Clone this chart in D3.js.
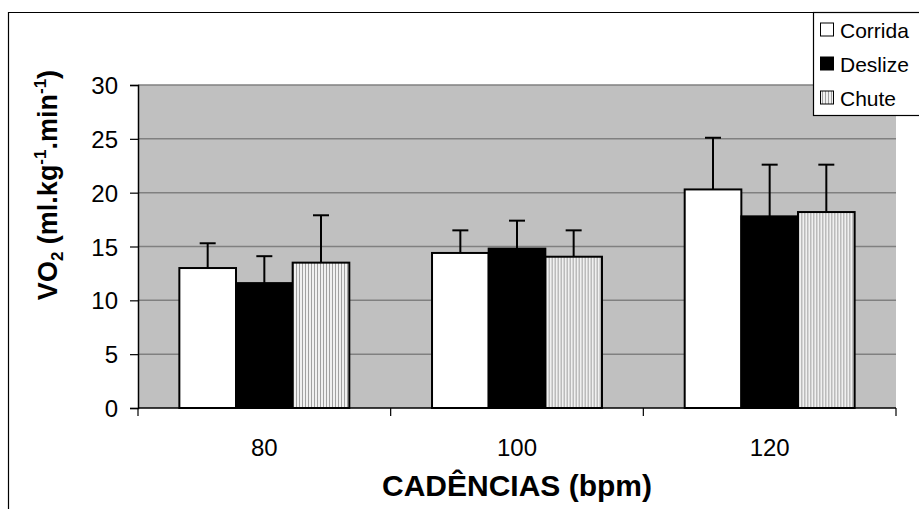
<!DOCTYPE html>
<html>
<head>
<meta charset="utf-8">
<script src="https://cdn.jsdelivr.net/npm/d3@7"></script>
<style>
  body { margin: 0; background: #fff; }
  svg { display: block; font-family: "Liberation Sans", Arial, sans-serif; }
</style>
</head>
<body>
<div id="chart"></div>
<script>
// Data
const cadences = ['80', '100', '120'];
const series = ['Corrida', 'Deslize', 'Chute'];
const means = {
  Corrida: [13.0, 14.4, 20.3],
  Deslize: [11.6, 14.8, 17.8],
  Chute:   [13.5, 14.05, 18.2]
};
const errors = {
  Corrida: [2.3, 2.1, 4.8],
  Deslize: [2.5, 2.6, 4.8],
  Chute:   [4.4, 2.45, 4.4]
};
const yTicks = [0, 5, 10, 15, 20, 25, 30];

const width = 919, height = 509;
const margin = { top: 85, right: 23, bottom: 101, left: 138 };

const svg = d3.select('#chart')
  .append('svg')
  .attr('width', width)
  .attr('height', height);

// stripe pattern for "Chute"
const defs = svg.append('defs');
const pat = defs.append('pattern')
  .attr('id', 'stripes')
  .attr('patternUnits', 'userSpaceOnUse')
  .attr('width', 3)
  .attr('height', 10);
pat.append('rect').attr('width', 3).attr('height', 10).attr('fill', '#f0f0f0');
pat.append('rect').attr('x', 2).attr('width', 1).attr('height', 10).attr('fill', '#a0a0a0');

const fills = { Corrida: '#ffffff', Deslize: '#000000', Chute: 'url(#stripes)' };

// outer chart border
svg.append('path')
  .attr('d', `M8.5,${height} V12.5 H${width}`)
  .attr('fill', 'none')
  .attr('stroke', '#000')
  .attr('stroke-width', 1.2);

const x0 = d3.scaleBand()
  .domain(cadences)
  .range([margin.left, width - margin.right]);

const x1 = d3.scaleBand()
  .domain(series)
  .range([0, x0.bandwidth()])
  .paddingOuter(0.73);

const y = d3.scaleLinear()
  .domain([0, 30])
  .range([height - margin.bottom, margin.top]);

// plot background
svg.append('rect')
  .attr('x', margin.left)
  .attr('y', margin.top)
  .attr('width', width - margin.left - margin.right)
  .attr('height', y(0) - margin.top)
  .attr('fill', '#c0c0c0');

// gridlines
svg.append('g')
  .selectAll('line')
  .data(yTicks.filter(d => d > 0))
  .enter()
  .append('line')
  .attr('x1', margin.left)
  .attr('x2', width - margin.right)
  .attr('y1', d => y(d))
  .attr('y2', d => y(d))
  .attr('stroke', '#808080')
  .attr('stroke-width', 1.5);

// y axis
const yAxis = svg.append('g')
  .attr('transform', `translate(${margin.left},0)`)
  .call(d3.axisLeft(y).tickValues(yTicks).tickSize(8).tickPadding(12));
yAxis.select('.domain').attr('stroke', '#000').attr('stroke-width', 1.5);
yAxis.selectAll('.tick line').attr('stroke', '#000').attr('stroke-width', 1.2);
yAxis.selectAll('.tick text')
  .attr('fill', '#000')
  .attr('dy', '0.36em')
  .style('font-size', '24px')
  .style('font-family', '"Liberation Sans", Arial, sans-serif');

// bars
const groups = svg.append('g')
  .selectAll('g')
  .data(cadences)
  .enter()
  .append('g')
  .attr('transform', d => `translate(${x0(d)},0)`);

groups.selectAll('rect')
  .data((c, i) => series.map(s => ({ s, v: means[s][i], e: errors[s][i] })))
  .enter()
  .append('rect')
  .attr('x', d => x1(d.s))
  .attr('y', d => y(d.v))
  .attr('width', x1.bandwidth())
  .attr('height', d => y(0) - y(d.v))
  .attr('fill', d => fills[d.s])
  .attr('stroke', '#000')
  .attr('stroke-width', 2);

// error bars (upper only)
const err = groups.selectAll('g.err')
  .data((c, i) => series.map(s => ({ s, v: means[s][i], e: errors[s][i] })))
  .enter()
  .append('g')
  .attr('class', 'err');

err.append('line')
  .attr('x1', d => x1(d.s) + x1.bandwidth() / 2)
  .attr('x2', d => x1(d.s) + x1.bandwidth() / 2)
  .attr('y1', d => y(d.v))
  .attr('y2', d => y(d.v + d.e))
  .attr('stroke', '#000')
  .attr('stroke-width', 2);

err.append('line')
  .attr('x1', d => x1(d.s) + x1.bandwidth() / 2 - 8)
  .attr('x2', d => x1(d.s) + x1.bandwidth() / 2 + 8)
  .attr('y1', d => y(d.v + d.e))
  .attr('y2', d => y(d.v + d.e))
  .attr('stroke', '#000')
  .attr('stroke-width', 2);

// x axis
const xAxis = svg.append('g')
  .attr('transform', `translate(0,${y(0)})`);
xAxis.append('line')
  .attr('x1', margin.left)
  .attr('x2', width - margin.right)
  .attr('stroke', '#000')
  .attr('stroke-width', 1.5);
xAxis.selectAll('line.tick')
  .data(cadences.map(c => x0(c)).concat([x0.range()[1]]))
  .enter()
  .append('line')
  .attr('class', 'tick')
  .attr('x1', d => d)
  .attr('x2', d => d)
  .attr('y1', 0)
  .attr('y2', 8)
  .attr('stroke', '#000')
  .attr('stroke-width', 1.2);
xAxis.selectAll('text')
  .data(cadences)
  .enter()
  .append('text')
  .attr('x', d => x0(d) + x0.bandwidth() / 2)
  .attr('y', 48)
  .attr('text-anchor', 'middle')
  .style('font-size', '24px')
  .text(d => d);

// axis titles
svg.append('text')
  .attr('x', x0.range()[0] + (x0.range()[1] - x0.range()[0]) / 2)
  .attr('y', 496)
  .attr('text-anchor', 'middle')
  .style('font-size', '30px')
  .style('font-weight', 'bold')
  .text('CADÊNCIAS (bpm)');

const yTitle = svg.append('text')
  .attr('transform', 'translate(57,185) rotate(-90)')
  .attr('text-anchor', 'middle')
  .style('font-size', '27px')
  .style('font-weight', 'bold');
yTitle.append('tspan').text('VO');
yTitle.append('tspan').attr('dy', 6).style('font-size', '17px').text('2');
yTitle.append('tspan').attr('dy', -6).text(' (ml.kg');
yTitle.append('tspan').attr('dy', -11).style('font-size', '17px').text('-1');
yTitle.append('tspan').attr('dy', 11).text('.min');
yTitle.append('tspan').attr('dy', -11).style('font-size', '17px').text('-1');
yTitle.append('tspan').attr('dy', 11).text(')');

// legend
const legend = svg.append('g')
  .attr('transform', 'translate(813,12)');
legend.append('rect')
  .attr('x', 0.5)
  .attr('y', 0.5)
  .attr('width', 120)
  .attr('height', 103)
  .attr('fill', '#fff')
  .attr('stroke', '#000')
  .attr('stroke-width', 1.2);
series.forEach((s, i) => {
  const g = legend.append('g')
    .attr('transform', `translate(7,${18 + i * 34})`);
  g.append('rect')
    .attr('x', 0.5)
    .attr('y', -7)
    .attr('width', 13)
    .attr('height', 13)
    .attr('fill', fills[s])
    .attr('stroke', '#000')
    .attr('stroke-width', 1);
  g.append('text')
    .attr('x', 20)
    .attr('y', 8)
    .style('font-size', '21px')
    .text(s);
});
</script>
</body>
</html>
